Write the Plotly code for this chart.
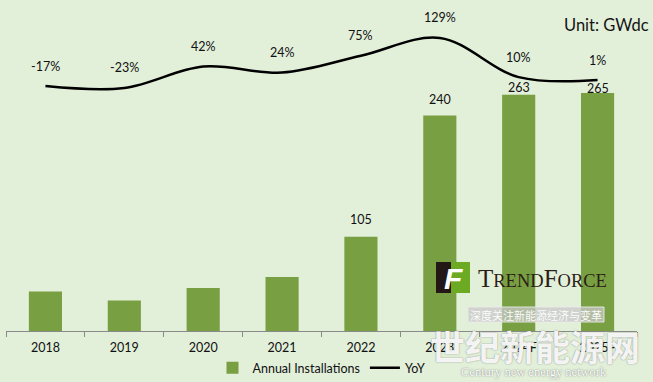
import plotly.graph_objects as go

years = ["2018", "2019", "2020", "2021", "2022", "2023", "2024F", "2025F"]
installations = [44, 34, 48, 60, 105, 240, 263, 265]
bar_labels = ["", "", "", "", "105", "240", "263", "265"]
yoy = [-17, -23, 42, 24, 75, 129, 10, 1]
yoy_labels = ["-17%", "-23%", "42%", "24%", "75%", "129%", "10%", "1%"]

BG = "#E2EFD9"
BAR = "#78A042"
FONT = "Lato"
bar_label_shift = [0, 0, 0, 0, 17, 16, 7, 5]

fig = go.Figure()
fig.add_trace(go.Bar(x=years, y=installations, name="Annual Installations",
                     marker=dict(color=BAR, line=dict(width=0))))
fig.add_trace(go.Scatter(x=years, y=yoy, name="YoY", yaxis="y2", mode="lines",
                         line=dict(color="black", width=2.5, shape="spline", smoothing=1.0)))

ann = []
for i, (v, t, s) in enumerate(zip(installations, bar_labels, bar_label_shift)):
    if t:
        ann.append(dict(x=i, y=v, xref="x", yref="y", text=t, showarrow=False,
                        yanchor="middle", yshift=s, font=dict(size=12.5, color="#111")))
for i, (v, t) in enumerate(zip(yoy, yoy_labels)):
    ann.append(dict(x=i, y=v, xref="x", yref="y2", text=t, showarrow=False,
                    yanchor="middle", yshift=20, font=dict(size=12.5, color="#111")))

W, H = 653, 382
L, R, T, B = 6, 16, 10, 51
pw, ph = W - L - R, H - T - B
def px(x):
    return (x - L) / pw
def py(y):
    return (H - B - y) / ph

ann.append(dict(x=px(651), y=py(25), xref="paper", yref="paper", text="Unit: GWdc",
                showarrow=False, xanchor="right", yanchor="middle",
                font=dict(size=16.5, color="#141414")))

# TrendForce logo
shapes = [
    dict(type="rect", xref="paper", yref="paper", x0=px(436), x1=px(470), y0=py(293), y1=py(262),
         fillcolor="#6BAA22", line=dict(width=0), layer="above"),
    dict(type="rect", xref="paper", yref="paper", x0=px(436), x1=px(451), y0=py(293), y1=py(262),
         fillcolor="#231815", line=dict(width=0), layer="above"),
    dict(type="rect", xref="paper", yref="paper", x0=px(468), x1=px(604), y0=py(322), y1=py(307),
         fillcolor="rgba(200,200,200,0.75)", line=dict(color="rgba(235,235,235,0.9)", width=1), layer="above"),
]
ann.append(dict(x=px(453), y=py(278), xref="paper", yref="paper",
                text="<b><i>F</i></b>", showarrow=False, xanchor="center", yanchor="middle",
                font=dict(size=30, color="white", family="Liberation Sans")))
ann.append(dict(x=px(476), y=py(278), xref="paper", yref="paper",
                text="T<span style='font-size:18.5px'>REND</span>F<span style='font-size:18.5px'>ORCE</span>",
                showarrow=False, xanchor="left", yanchor="middle",
                font=dict(size=25, color="#2B1D17", family="Liberation Serif")))
ann.append(dict(x=px(536), y=py(314.5), xref="paper", yref="paper", text="深度关注新能源经济与变革",
                showarrow=False, xanchor="center", yanchor="middle",
                font=dict(size=11, color="rgba(255,255,255,0.95)", family="Noto Sans CJK SC")))
ann.append(dict(x=px(535), y=py(346), xref="paper", yref="paper", text="<b>世纪新能源网</b>",
                showarrow=False, xanchor="center", yanchor="middle",
                font=dict(size=35, color="rgba(255,255,255,0.92)", family="Noto Sans CJK SC",
                          shadow="0px 0px 1.5px rgba(110,110,110,0.9)")))
ann.append(dict(x=px(534), y=py(372), xref="paper", yref="paper", text="Century new energy network",
                showarrow=False, xanchor="center", yanchor="middle",
                font=dict(size=12.5, color="rgba(255,255,255,0.98)", family="Liberation Serif",
                          shadow="0px 0px 1.5px rgba(90,90,90,0.9)")))

fig.update_layout(
    width=W, height=H,
    margin=dict(l=L, r=R, t=T, b=B, autoexpand=False),
    paper_bgcolor=BG, plot_bgcolor=BG,
    font=dict(family=FONT, size=12.5, color="#111"),
    bargap=0.58,
    showlegend=True,
    legend=dict(orientation="h", x=0.5, xanchor="center", y=py(368), yanchor="middle",
                bgcolor="rgba(0,0,0,0)", font=dict(size=12.5), traceorder="normal"),
    xaxis=dict(type="category", range=[-0.5, len(years) - 0.5], autorange=False,
               showgrid=False, showline=True, linecolor="#8A8A8A", linewidth=1,
               ticks="outside", tickson="boundaries", ticklen=5, tickcolor="#8A8A8A",
               ticklabelstandoff=5,
               tickfont=dict(size=12.5, color="#111"), fixedrange=True),
    yaxis=dict(range=[0, ph / 0.898], visible=False, showgrid=False, zeroline=False, fixedrange=True),
    yaxis2=dict(range=[-761.6, 214], overlaying="y", visible=False, showgrid=False, zeroline=False, fixedrange=True),
    annotations=ann, shapes=shapes,
)

fig.write_html("out.html", config={"displayModeBar": False},
               post_script="document.body.style.margin='0';document.body.style.background='" + BG + "';")
